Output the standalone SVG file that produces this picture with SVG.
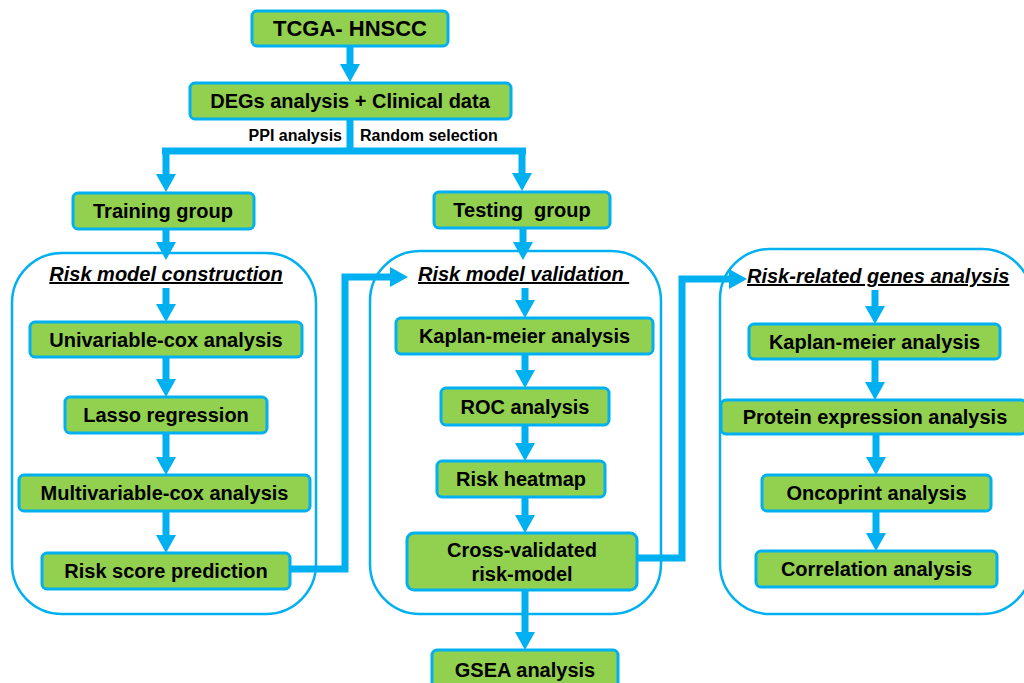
<svg xmlns="http://www.w3.org/2000/svg" width="1024" height="683" viewBox="0 0 1024 683">
<style>
.box{fill:#92D050;stroke:#00B0F0;stroke-width:3}
.cont{fill:none;stroke:#00B0F0;stroke-width:2.5}
.t{font-family:"Liberation Sans",Arial,sans-serif;font-weight:bold;font-size:20px;fill:#000;text-anchor:middle}
.lbl{font-family:"Liberation Sans",Arial,sans-serif;font-weight:bold;font-size:16px;fill:#000}
.ttl{font-family:"Liberation Sans",Arial,sans-serif;font-weight:bold;font-style:italic;font-size:20px;fill:#000;text-decoration:underline}
.c{fill:none;stroke:#00B0F0;stroke-width:7}
</style>
<defs>
<marker id="ah" markerUnits="userSpaceOnUse" markerWidth="18" markerHeight="20" viewBox="0 0 18 20" refX="8" refY="10" orient="auto">
<path d="M0,0 L18,10 L0,20 z" fill="#00B0F0"/>
</marker>
</defs>
<g id="containers">
<rect id="c-construction" class="cont" x="12" y="253" width="304" height="361" rx="50"/>
<rect id="c-validation" class="cont" x="370" y="251" width="291" height="363" rx="50"/>
<rect id="c-genes" class="cont" x="720" y="249" width="312" height="365" rx="50"/>
</g>
<g id="connectors">
<line class="c" x1="350" y1="46" x2="350" y2="72" marker-end="url(#ah)"/>
<line class="c" x1="350" y1="119" x2="350" y2="151"/>
<line class="c" x1="162" y1="151" x2="526" y2="151"/>
<line class="c" x1="166" y1="151" x2="166" y2="182" marker-end="url(#ah)"/>
<line class="c" x1="522" y1="151" x2="522" y2="181" marker-end="url(#ah)"/>
<line class="c" x1="166" y1="229" x2="166" y2="250" marker-end="url(#ah)"/>
<line class="c" x1="523" y1="228" x2="523" y2="250" marker-end="url(#ah)"/>
<line class="c" x1="166" y1="288" x2="166" y2="312" marker-end="url(#ah)"/>
<line class="c" x1="166" y1="358" x2="166" y2="387" marker-end="url(#ah)"/>
<line class="c" x1="166" y1="434" x2="166" y2="465" marker-end="url(#ah)"/>
<line class="c" x1="166" y1="512" x2="166" y2="543" marker-end="url(#ah)"/>
<line class="c" x1="525" y1="288" x2="525" y2="308" marker-end="url(#ah)"/>
<line class="c" x1="525" y1="354" x2="525" y2="378" marker-end="url(#ah)"/>
<line class="c" x1="525" y1="425" x2="525" y2="451" marker-end="url(#ah)"/>
<line class="c" x1="525" y1="497" x2="525" y2="523" marker-end="url(#ah)"/>
<line class="c" x1="525" y1="590" x2="525" y2="640" marker-end="url(#ah)"/>
<line class="c" x1="875" y1="290" x2="875" y2="314" marker-end="url(#ah)"/>
<line class="c" x1="875" y1="359" x2="875" y2="390" marker-end="url(#ah)"/>
<line class="c" x1="876" y1="434" x2="876" y2="465" marker-end="url(#ah)"/>
<line class="c" x1="876" y1="511" x2="876" y2="541" marker-end="url(#ah)"/>
<polyline class="c" points="290,569 345,569 345,277 398,277" marker-end="url(#ah)"/>
<polyline class="c" points="637,558 682,558 682,279 737,279" marker-end="url(#ah)"/>
</g>
<g id="labels">
<text class="lbl" x="342" y="141" text-anchor="end">PPI analysis</text>
<text class="lbl" x="360" y="141">Random selection</text>
</g>
<g id="titles">
<text class="ttl" x="166" y="281" text-anchor="middle">Risk model construction</text>
<text class="ttl" x="418" y="281" xml:space="preserve">Risk model validation </text>
<text class="ttl" x="747" y="283">Risk-related genes analysis</text>
</g>
<g id="n-tcga"><rect class="box" x="252" y="11" width="196" height="35" rx="5"/><text class="t" x="350" y="36" style="font-size:22px">TCGA- HNSCC</text></g>
<g id="n-degs"><rect class="box" x="190" y="83" width="321" height="36" rx="5"/><text class="t" x="350" y="108">DEGs analysis + Clinical data</text></g>
<g id="n-training"><rect class="box" x="73" y="193" width="181" height="36" rx="5"/><text class="t" x="163" y="218">Training group</text></g>
<g id="n-testing"><rect class="box" x="434" y="192" width="176" height="36" rx="5"/><text class="t" x="522" y="217" xml:space="preserve">Testing  group</text></g>
<g id="n-univariable"><rect class="box" x="30" y="322" width="272" height="35" rx="5"/><text class="t" x="166" y="346.5">Univariable-cox analysis</text></g>
<g id="n-lasso"><rect class="box" x="65" y="397" width="202" height="36" rx="5"/><text class="t" x="166" y="422">Lasso regression</text></g>
<g id="n-multivariable"><rect class="box" x="19" y="475" width="291" height="36" rx="5"/><text class="t" x="164.5" y="500">Multivariable-cox analysis</text></g>
<g id="n-riskscore"><rect class="box" x="42" y="553" width="248" height="36" rx="5"/><text class="t" x="166" y="578">Risk score prediction</text></g>
<g id="n-km-mid"><rect class="box" x="396" y="318" width="257" height="36" rx="5"/><text class="t" x="524.5" y="343">Kaplan-meier analysis</text></g>
<g id="n-roc"><rect class="box" x="441" y="388" width="168" height="37" rx="5"/><text class="t" x="525" y="413.5">ROC analysis</text></g>
<g id="n-heatmap"><rect class="box" x="437" y="461" width="168" height="36" rx="5"/><text class="t" x="521" y="486">Risk heatmap</text></g>
<g id="n-cross"><rect class="box" x="407" y="533" width="230" height="57" rx="7"/><text class="t" x="522" y="557">Cross-validated</text><text class="t" x="522" y="581">risk-model</text></g>
<g id="n-gsea"><rect class="box" x="432" y="650" width="186" height="42" rx="5"/><text class="t" x="525" y="677">GSEA analysis</text></g>
<g id="n-km-right"><rect class="box" x="749" y="324" width="251" height="35" rx="5"/><text class="t" x="874.5" y="348.5">Kaplan-meier analysis</text></g>
<g id="n-protein"><rect class="box" x="721" y="400" width="305" height="34" rx="5"/><text class="t" x="875" y="424">Protein expression analysis</text></g>
<g id="n-oncoprint"><rect class="box" x="762" y="475" width="229" height="36" rx="5"/><text class="t" x="876.5" y="500">Oncoprint analysis</text></g>
<g id="n-correlation"><rect class="box" x="756" y="551" width="241" height="36" rx="5"/><text class="t" x="876.5" y="576">Correlation analysis</text></g>
</svg>
